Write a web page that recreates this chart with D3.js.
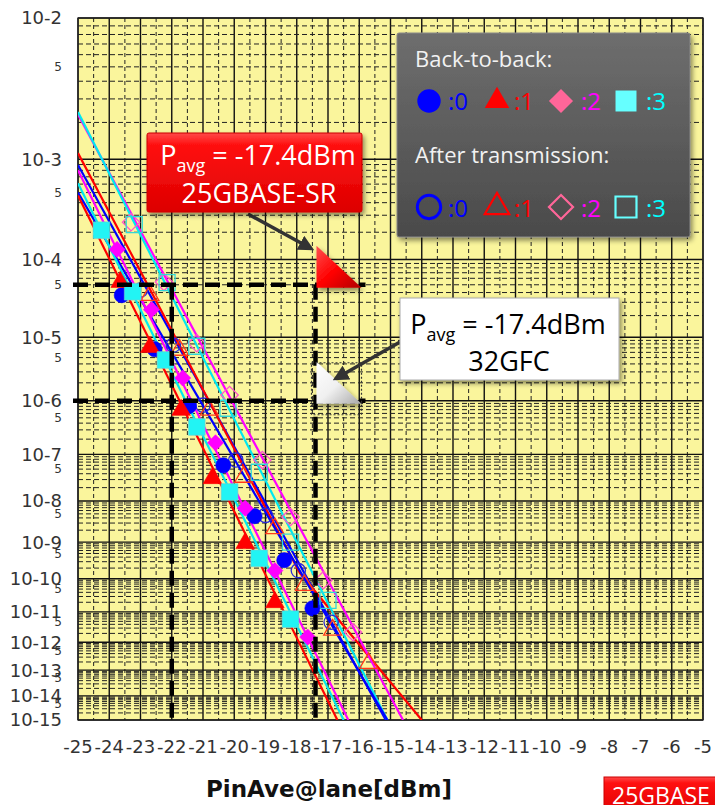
<!DOCTYPE html>
<html>
<head>
<meta charset="utf-8">
<script src="https://cdn.jsdelivr.net/npm/d3@7/dist/d3.min.js"></script>
<style>
body{margin:0;background:#fff;}
svg{display:block;}
</style>
</head>
<body>
<div id="chart"></div>
<script>
// ---- data ----
var xTickValues = [-25,-24,-23,-22,-21,-20,-19,-18,-17,-16,-15,-14,-13,-12,-11,-10,-9,-8,-7,-6,-5];
var yDecades = [2,3,4,5,6,7,8,9,10,11,12,13,14,15];      // labels 10-n
var yFiveLabels = [3,4,5,6,7,8,9,10,11,12,13,14,15];      // "5" = 5x10^-n

// back-to-back (filled markers)
var b2b0X = [-23.6,-22.55,-21.45,-20.35,-19.35,-18.4,-17.5];
var b2b0BER = [3.7e-5,6.7e-6,8.1e-7,6.0e-8,4.4e-9,3.3e-10,1.3e-11];
var b2b1X = [-23.65,-22.7,-21.7,-20.7,-19.65,-18.7];
var b2b1BER = [5.4e-5,7.2e-6,6.9e-7,3.2e-8,9.3e-10,2.0e-11];
var b2b2X = [-23.75,-22.65,-21.65,-20.6,-19.65,-18.7,-17.65];
var b2b2BER = [1.3e-4,2.4e-5,2.4e-6,1.7e-7,6.8e-9,1.7e-10,1.5e-12];
var b2b3X = [-24.25,-23.25,-22.2,-21.2,-20.15,-19.2,-18.2];
var b2b3BER = [2.1e-4,4.1e-5,4.6e-6,3.4e-7,1.6e-8,3.7e-10,5.9e-12];

// after transmission (open markers)
var tx0X = [-23.0,-21.95,-21.0,-19.95,-19.0,-17.95,-16.9];
var tx0BER = [4.3e-5,7.7e-6,8.4e-7,7.7e-8,4.6e-9,1.7e-10,4.7e-12];
var tx1X = [-22.7,-21.75,-20.8,-19.7,-18.7,-17.75,-16.85,-15.7];
var tx1BER = [3.7e-5,6.5e-6,6.9e-7,3.4e-8,2.2e-9,6.5e-11,2.6e-12,1.8e-13];
var tx2X = [-23.3,-22.25,-21.2,-20.15,-19.1,-18.2,-17.15,-16.2];
var tx2BER = [2.55e-4,5.4e-5,8.2e-6,1.25e-6,7.7e-8,4.2e-9,9.1e-11,2.2e-12];
var tx3X = [-23.2,-22.15,-21.2,-20.2,-19.2,-18.2,-17.0];
var tx3BER = [2.4e-4,5.3e-5,7.4e-6,7.4e-7,4.3e-8,9.9e-10,2.3e-11];

// fitted lines (points where they enter / leave the plot)
var b2b0FitX = [-25,-15.1],  b2b0FitBER = [5.0e-4,1e-15];
var b2b1FitX = [-25,-16.7],  b2b1FitBER = [4.7e-4,1e-15];
var b2b2FitX = [-25,-16.35], b2b2FitBER = [8.0e-4,1e-15];
var b2b3FitX = [-25,-16.5],  b2b3FitBER = [6.1e-4,1e-15];
var tx0FitX = [-25,-15.15],  tx0FitBER = [8.9e-4,1e-15];
var tx1FitX = [-25,-17.9,-14.0], tx1FitBER = [1.13e-3,1.45e-10,1e-15];
var tx2FitX = [-25,-14.6],   tx2FitBER = [2.3e-3,1e-15];
var tx3FitX = [-25,-15.1],   tx3FitBER = [2.4e-3,1e-15];

// markers in the annotation
var pAvg = -17.4, pRef = -22;
var berSR = 5e-5, berGFC = 1e-6;
var guideEnd = -15.8;

// ---- layout ----
var W = 715, H = 805;
var plotLeft = 78, plotRight = 703, plotTop = 18, plotBottom = 720;

var svg = d3.select('#chart').append('svg')
  .attr('width', W).attr('height', H);

var defs = svg.append('defs');
defs.append('clipPath').attr('id','plotclip')
  .append('rect').attr('x',plotLeft).attr('y',plotTop)
  .attr('width',plotRight-plotLeft).attr('height',plotBottom-plotTop);

var shadow = defs.append('filter').attr('id','shadow')
  .attr('x','-10%').attr('y','-10%').attr('width','130%').attr('height','140%');
shadow.append('feDropShadow').attr('dx',2).attr('dy',3)
  .attr('stdDeviation',2.5).attr('flood-color','#000').attr('flood-opacity',0.45);

function grad(id, stops, vertical) {
  var g = defs.append('linearGradient').attr('id', id)
    .attr('x1',0).attr('y1',0).attr('x2', vertical ? 0 : 1).attr('y2', vertical ? 1 : 1);
  stops.forEach(function(s){ g.append('stop').attr('offset',s[0]).attr('stop-color',s[1]); });
}
grad('redbox', [[0,'#ff4a4a'],[0.15,'#ff1010'],[1,'#dd0000']], true);
grad('greybox', [[0,'#6e6e6e'],[1,'#4a4a4a']], true);
grad('redtri', [[0,'#ff5050'],[0.5,'#ff0000'],[1,'#b00000']], false);
grad('whitetri', [[0,'#ffffff'],[0.5,'#f0f0f0'],[1,'#a8a8a8']], false);

var x = d3.scaleLinear().domain([-25,-5]).range([plotLeft, plotRight]);
// BER axis: linear in log10(-log10(BER))
var qScale = d3.scaleLinear()
  .domain([Math.log10(2), Math.log10(15)])
  .range([plotTop, plotBottom]);
function y(ber) { return qScale(Math.log10(-Math.log10(ber))); }

// ---- plot background + grid ----
svg.append('rect')
  .attr('x',plotLeft).attr('y',plotTop)
  .attr('width',plotRight-plotLeft).attr('height',plotBottom-plotTop)
  .attr('fill','#faf59c');

var grid = svg.append('g');
var halfSteps = d3.range(-24.5, -5, 1);
grid.selectAll('.vminor').data(halfSteps).enter().append('line')
  .attr('x1',function(d){return x(d);}).attr('x2',function(d){return x(d);})
  .attr('y1',plotTop).attr('y2',plotBottom)
  .attr('stroke','#222').attr('stroke-width',1).attr('stroke-dasharray','4,3');
grid.selectAll('.vmajor').data(xTickValues).enter().append('line')
  .attr('x1',function(d){return x(d);}).attr('x2',function(d){return x(d);})
  .attr('y1',plotTop).attr('y2',plotBottom)
  .attr('stroke','#111').attr('stroke-width',1.4);

var minorBER = [];
yDecades.forEach(function(n){
  if (n < 15) d3.range(2,10).forEach(function(k){ minorBER.push(k*Math.pow(10,-(n+1))); });
});
grid.selectAll('.hminor').data(minorBER).enter().append('line')
  .attr('x1',plotLeft).attr('x2',plotRight)
  .attr('y1',function(d){return y(d);}).attr('y2',function(d){return y(d);})
  .attr('stroke','#222').attr('stroke-width',1).attr('stroke-dasharray','5,3');
grid.selectAll('.hmajor').data(yDecades).enter().append('line')
  .attr('x1',plotLeft).attr('x2',plotRight)
  .attr('y1',function(d){return y(Math.pow(10,-d));}).attr('y2',function(d){return y(Math.pow(10,-d));})
  .attr('stroke','#111').attr('stroke-width',1.3);

svg.append('rect')
  .attr('x',plotLeft).attr('y',plotTop)
  .attr('width',plotRight-plotLeft).attr('height',plotBottom-plotTop)
  .attr('fill','none').attr('stroke','#222').attr('stroke-width',1.3);

// ---- axis labels ----
var axisFont = 'DejaVu Sans, sans-serif';
svg.append('g').selectAll('text').data(xTickValues).enter().append('text')
  .attr('x',function(d){return x(d);}).attr('y',753)
  .attr('text-anchor','middle')
  .style('font-family',axisFont).style('font-size','18px').style('fill','#333')
  .text(function(d){return d;});

svg.append('g').selectAll('text').data(yDecades).enter().append('text')
  .attr('x',62).attr('y',function(d){return y(Math.pow(10,-d));})
  .attr('dy','0.36em').attr('text-anchor','end')
  .style('font-family',axisFont).style('font-size','18px').style('fill','#333')
  .text(function(d){return '10-' + d;});

svg.append('g').selectAll('text').data(yFiveLabels).enter().append('text')
  .attr('x',62).attr('y',function(d){return y(5*Math.pow(10,-d));})
  .attr('dy','0.36em').attr('text-anchor','end')
  .style('font-family',axisFont).style('font-size','12px').style('fill','#333')
  .text('5');

svg.append('text')
  .attr('x',329).attr('y',797).attr('text-anchor','middle')
  .style('font-family',axisFont).style('font-weight','bold')
  .style('font-size','23px').style('fill','#111')
  .text('PinAve@lane[dBm]');

// ---- series ----
var series = [
  {x:tx0X, ber:tx0BER, fx:tx0FitX, fb:tx0FitBER, color:'#0000ff', mark:'circle', open:true},
  {x:tx1X, ber:tx1BER, fx:tx1FitX, fb:tx1FitBER, color:'#ff0000', mark:'triangle', open:true},
  {x:tx2X, ber:tx2BER, fx:tx2FitX, fb:tx2FitBER, color:'#ff00ff', mark:'diamond', open:true},
  {x:tx3X, ber:tx3BER, fx:tx3FitX, fb:tx3FitBER, color:'#00e8f0', mark:'square', open:true},
  {x:b2b0X, ber:b2b0BER, fx:b2b0FitX, fb:b2b0FitBER, color:'#0000ff', mark:'circle', open:false},
  {x:b2b1X, ber:b2b1BER, fx:b2b1FitX, fb:b2b1FitBER, color:'#ff0000', mark:'triangle', open:false},
  {x:b2b2X, ber:b2b2BER, fx:b2b2FitX, fb:b2b2FitBER, color:'#ff00ff', mark:'diamond', open:false},
  {x:b2b3X, ber:b2b3BER, fx:b2b3FitX, fb:b2b3FitBER, color:'#00e8f0', mark:'square', open:false}
];

var openColor = {circle:'#2a2ad8', triangle:'#ff3a1a', diamond:'#ff55cc', square:'#30d8d8'};
var fillColor = {circle:'#0000ff', triangle:'#ff0000', diamond:'#ff00ff', square:'#22f4f4'};

function symbolPath(kind, open) {
  var s;
  if (kind === 'circle') s = d3.symbol(d3.symbolCircle, open ? 160 : 180);
  else if (kind === 'triangle') s = d3.symbol(d3.symbolTriangle, open ? 140 : 150);
  else if (kind === 'diamond') s = d3.symbol(d3.symbolSquare, open ? 150 : 130);
  else s = d3.symbol(d3.symbolSquare, open ? 256 : 280);
  return s();
}

var line = d3.line().x(function(d){return x(d[0]);}).y(function(d){return y(d[1]);});

var lineLayer = svg.append('g').attr('clip-path','url(#plotclip)');
series.forEach(function(s){
  lineLayer.append('path')
    .datum(s.fx.map(function(v,i){return [v, s.fb[i]];}))
    .attr('d', line)
    .attr('fill','none').attr('stroke', s.color).attr('stroke-width',2.2);
});

var markLayer = svg.append('g').attr('clip-path','url(#plotclip)');
series.forEach(function(s){
  markLayer.append('g').selectAll('path')
    .data(s.x.map(function(v,i){return [v, s.ber[i]];}))
    .enter().append('path')
    .attr('d', symbolPath(s.mark, s.open))
    .attr('transform', function(d){
      return 'translate(' + x(d[0]) + ',' + y(d[1]) + ')' + (s.mark === 'diamond' ? ' rotate(45)' : '');
    })
    .attr('fill', s.open ? 'none' : fillColor[s.mark])
    .attr('stroke', s.open ? openColor[s.mark] : (s.mark === 'square' ? '#7cc' : fillColor[s.mark]))
    .attr('stroke-width', s.open ? 1.3 : 0.6);
});

// ---- guide lines ----
var guide = svg.append('g')
  .attr('stroke','#000').attr('stroke-width',4.5).attr('stroke-dasharray','15,7').attr('fill','none');
guide.append('line').attr('x1',x(-25)-5).attr('x2',x(guideEnd)).attr('y1',y(berSR)).attr('y2',y(berSR));
guide.append('line').attr('x1',x(-25)-5).attr('x2',x(guideEnd)).attr('y1',y(berGFC)).attr('y2',y(berGFC));
guide.append('line').attr('x1',x(pRef)).attr('x2',x(pRef)).attr('y1',y(berSR)).attr('y2',y(1e-15));
guide.append('line').attr('x1',x(pAvg)).attr('x2',x(pAvg)).attr('y1',y(berSR)).attr('y2',y(1e-15));

// ---- triangles at the crossing points ----
function cornerTri(ber, fill) {
  var px = x(pAvg) + 1, py = y(ber) + 3;
  svg.append('path')
    .attr('d', 'M' + px + ',' + (py - 42) + 'L' + px + ',' + py + 'L' + (px + 45) + ',' + py + 'Z')
    .attr('fill', fill).attr('filter','url(#shadow)');
}
cornerTri(berSR, 'url(#redtri)');
cornerTri(berGFC, 'url(#whitetri)');
svg.append('rect').attr('x',x(pAvg)-4).attr('y',y(berGFC)-38)
  .attr('width',50).attr('height',52)
  .attr('fill','none').attr('stroke','#333').attr('stroke-width',1.2).attr('stroke-dasharray','2,2');

// ---- arrows ----
defs.append('marker').attr('id','arrow')
  .attr('viewBox','0 0 10 10').attr('refX',8).attr('refY',5)
  .attr('markerWidth',4.5).attr('markerHeight',4.5).attr('orient','auto')
  .append('path').attr('d','M0,0L10,5L0,10Z').attr('fill','#333');

svg.append('line').attr('x1',248).attr('y1',214).attr('x2',x(pAvg)-4).attr('y2',y(berSR)-36)
  .attr('stroke','#333').attr('stroke-width',3.5).attr('marker-end','url(#arrow)');
svg.append('line').attr('x1',400).attr('y1',342).attr('x2',x(pAvg)+20).attr('y2',y(berGFC)-22)
  .attr('stroke','#333').attr('stroke-width',3.5).attr('marker-end','url(#arrow)');

// ---- callout boxes ----
var boxFont = 'Open Sans, Noto Sans, sans-serif';

function pavgText(g, cx, by, color) {
  var t = g.append('text').attr('x',cx).attr('y',by).attr('text-anchor','middle')
    .style('font-family',boxFont).style('font-size','27px').style('fill',color);
  t.append('tspan').text('P');
  t.append('tspan').attr('dy',7).style('font-size','18px').text('avg');
  t.append('tspan').attr('dy',-7).text(' = -17.4dBm');
}

var srBox = svg.append('g');
srBox.append('rect').attr('x',147).attr('y',133).attr('width',215).attr('height',79)
  .attr('rx',2).attr('fill','url(#redbox)').attr('stroke','#c00').attr('filter','url(#shadow)');
pavgText(srBox, 258, 165, '#fff');
srBox.append('text').attr('x',259).attr('y',203).attr('text-anchor','middle')
  .style('font-family',boxFont).style('font-size','27px').style('fill','#fff')
  .text('25GBASE-SR');

var gfcBox = svg.append('g');
gfcBox.append('rect').attr('x',400).attr('y',298).attr('width',219).attr('height',82)
  .attr('fill','#fff').attr('stroke','#aaa').attr('filter','url(#shadow)');
pavgText(gfcBox, 508, 334, '#000');
gfcBox.append('text').attr('x',509).attr('y',371).attr('text-anchor','middle')
  .style('font-family',boxFont).style('font-size','27px').style('fill','#000')
  .text('32GFC');

// ---- legend ----
var lg = svg.append('g');
lg.append('rect').attr('x',397).attr('y',33).attr('width',293).attr('height',204)
  .attr('rx',2).attr('fill','url(#greybox)').attr('stroke','#888').attr('filter','url(#shadow)');
lg.append('text').attr('x',415).attr('y',67)
  .style('font-family',boxFont).style('font-size','22px').style('fill','#f2f2f2')
  .text('Back-to-back:');
lg.append('text').attr('x',415).attr('y',163)
  .style('font-family',boxFont).style('font-size','22px').style('fill','#f2f2f2')
  .text('After transmission:');

var legendItems = [
  {kind:'circle', label:':0', color:'#0000ff', sx:429, tx:448, solid:'#0000ff', hollow:'#0000ff'},
  {kind:'triangle', label:':1', color:'#ff0000', sx:497, tx:514, solid:'#ff0000', hollow:'#ff0000'},
  {kind:'diamond', label:':2', color:'#ff00ff', sx:561, tx:581, solid:'#ff6699', hollow:'#ff6699'},
  {kind:'square', label:':3', color:'#00ffff', sx:626, tx:646, solid:'#66ffff', hollow:'#66ffff'}
];
function legendSymbol(kind) {
  if (kind === 'circle') return d3.symbol(d3.symbolCircle, 430)();
  if (kind === 'triangle') return d3.symbol(d3.symbolTriangle, 260)();
  if (kind === 'diamond') return d3.symbol(d3.symbolSquare, 290)();
  return d3.symbol(d3.symbolSquare, 440)();
}
[[101, false, 110], [207, true, 217]].forEach(function(row){
  legendItems.forEach(function(it){
    lg.append('path').attr('d', legendSymbol(it.kind))
      .attr('transform','translate(' + it.sx + ',' + row[0] + ')' + (it.kind === 'diamond' ? ' rotate(45)' : ''))
      .attr('fill', row[1] ? 'none' : it.solid)
      .attr('stroke', it.hollow)
      .attr('stroke-width', row[1] ? (it.kind === 'circle' ? 3 : 2.2) : 0);
    lg.append('text').attr('x', it.tx).attr('y', row[2])
      .style('font-family',boxFont).style('font-size','24px').style('fill', it.color)
      .text(it.label);
  });
});

// ---- cut-off label at bottom right ----
svg.append('rect').attr('x',604).attr('y',777).attr('width',140).attr('height',40)
  .attr('fill','url(#redbox)').attr('stroke','#c00');
svg.append('text').attr('x',612).attr('y',804)
  .style('font-family',boxFont).style('font-size','23px').style('fill','#fff')
  .text('25GBASE');
</script>
</body>
</html>
